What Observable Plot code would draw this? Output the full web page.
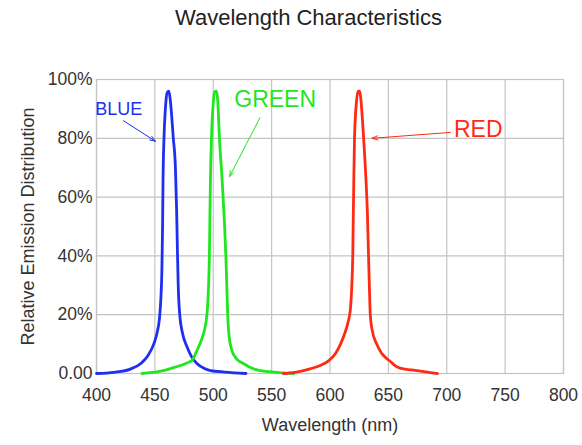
<!DOCTYPE html>
<html>
<head>
<meta charset="utf-8">
<script src="https://cdn.jsdelivr.net/npm/d3@7"></script>
<script src="https://cdn.jsdelivr.net/npm/@observablehq/plot@0.6"></script>
<style>
  body { margin: 0; background: #fff; font-family: "Liberation Sans", Arial, sans-serif; }
  #title { height: 36px; line-height: 36px; font-size: 22px; color: #222; padding-left: 175px; white-space: nowrap; }
</style>
</head>
<body>
<div id="title">Wavelength Characteristics</div>
<div id="chart"></div>
<script>
// Wavelength (nm), relative emission (%)
const blueX = [400, 415, 429, 438, 444, 449, 452, 454, 455.2, 456, 456.6, 457, 457.8, 459, 460.5, 462, 463.2, 465.8, 467.6, 468.6, 469.3, 470, 471.3, 473.5, 477.6, 481, 486, 492, 497.6, 510, 528];
const blueY = [0, 0.4, 1.5, 3.4, 6, 10, 14, 19, 26, 35, 50, 66, 80, 90, 95.5, 96, 93, 80, 70, 56, 42, 30, 20, 14, 9, 6, 3.4, 1.8, 1, 0.5, 0];
const greenX = [439, 455, 466, 477, 482, 486, 489.5, 492.3, 494, 495.2, 496, 496.7, 497.2, 497.6, 498.5, 500, 501, 502.8, 503.8, 505.3, 507.6, 509.5, 510.8, 511.6, 512.4, 513.5, 516, 520, 525.8, 535, 548, 569];
const greenY = [0, 0.8, 2, 3.5, 4.6, 7.8, 11, 14.5, 18, 23, 30, 40, 55, 66, 80, 92, 95.8, 96, 93, 80, 66, 52, 40, 30, 20, 13, 7.8, 5, 3.4, 1.5, 0.6, 0];
const redX = [560, 570, 583, 592, 599, 605, 609, 612.5, 615.5, 617.5, 618.7, 619.5, 620, 620.4, 621, 622.8, 624, 625.5, 626.5, 628.8, 630.8, 632, 633, 633.7, 634.5, 636, 640, 644, 648, 652, 656, 660, 670, 692];
const redY = [0, 0.4, 1.6, 2.8, 4.4, 7, 10, 13.5, 17.5, 22, 30, 40, 55, 66, 80, 93, 96, 96, 93, 80, 66, 55, 40, 30, 20, 15, 10, 7, 5.3, 4, 2.6, 1.8, 1.2, 0];

const xTicks = [400, 450, 500, 550, 600, 650, 700, 750, 800];
const yTicks = [0, 20, 40, 60, 80, 100];
const yTickLabels = ["0.00", "20%", "40%", "60%", "80%", "100%"];

const seriesNames = ["BLUE", "GREEN", "RED"];
const seriesColors = ["#1f2ff0", "#1fe61f", "#ff2a14"];
const labelX = [419, 553, 727];
const labelY = [90, 93, 83];
const labelSize = [18, 23, 23];
const arrowX1 = [423, 540, 703];
const arrowY1 = [86, 87, 82];
const arrowX2 = [450.5, 514, 636];
const arrowY2 = [79, 67, 80];

const toPts = (xs, ys) => xs.map((x, i) => ({x, y: ys[i]}));
const curves = [toPts(blueX, blueY), toPts(greenX, greenY), toPts(redX, redY)];
const labels = seriesNames.map((n, i) => ({name: n, x: labelX[i], y: labelY[i], color: seriesColors[i], size: labelSize[i]}));
const arrows = seriesNames.map((n, i) => ({x1: arrowX1[i], y1: arrowY1[i], x2: arrowX2[i], y2: arrowY2[i], color: seriesColors[i]}));

const chart = Plot.plot({
  width: 582,
  height: 409,
  marginLeft: 96,
  marginRight: 19,
  marginTop: 43,
  marginBottom: 72,
  style: {fontFamily: "Liberation Sans, Arial, sans-serif", fontSize: "17px", color: "#333", background: "#fff"},
  x: {domain: [400, 800], ticks: xTicks},
  y: {domain: [0, 100], ticks: yTicks},
  marks: [
    Plot.gridX(xTicks, {stroke: "#c4c4c4", strokeOpacity: 1, strokeWidth: 1.2}),
    Plot.gridY(yTicks, {stroke: "#c4c4c4", strokeOpacity: 1, strokeWidth: 1.2}),
    Plot.frame({stroke: "#c4c4c4", strokeWidth: 1.2}),
    Plot.axisX(xTicks, {tickSize: 0, tickPadding: 15, fontSize: 17.5, fill: "#333", label: null}),
    Plot.axisY(yTicks, {tickSize: 0, tickPadding: 4, fontSize: 17.5, fill: "#333", label: null,
      tickFormat: (d) => yTickLabels[yTicks.indexOf(d)]}),
    Plot.text(["Wavelength (nm)"], {frameAnchor: "bottom", dy: 57, fontSize: 18, fill: "#333"}),
    Plot.text(["Relative Emission Distribution"], {frameAnchor: "left", textAnchor: "middle", dx: -68, rotate: -90, fontSize: 18, fill: "#333"}),
    ...curves.map((c, i) => Plot.line(c, {x: "x", y: "y", stroke: seriesColors[i], strokeWidth: 2.8, curve: "monotone-x"})),
    Plot.arrow(arrows, {x1: "x1", y1: "y1", x2: "x2", y2: "y2", stroke: "color", strokeWidth: 1, headLength: 9, headAngle: 40}),
    ...labels.map((l) => Plot.text([l], {x: "x", y: "y", text: "name", fill: l.color, fontSize: l.size}))
  ]
});
document.getElementById("chart").appendChild(chart);
</script>
</body>
</html>
